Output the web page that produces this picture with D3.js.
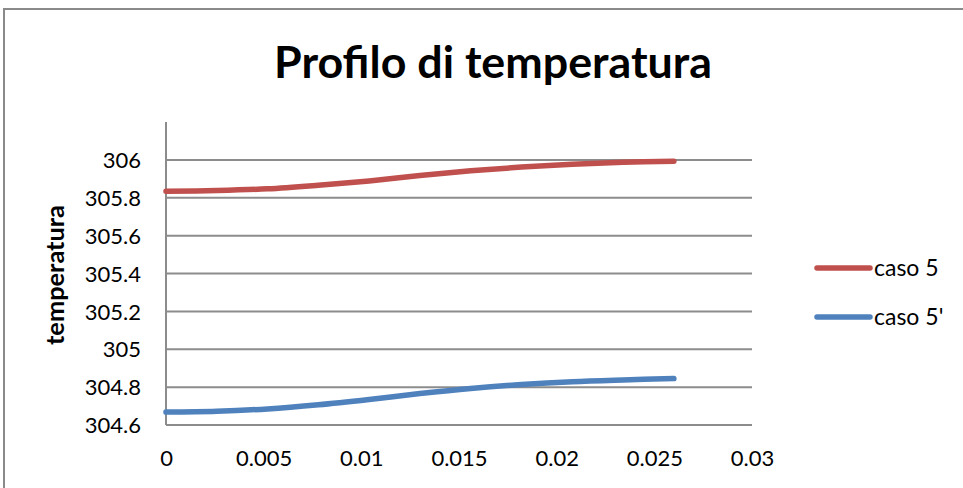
<!DOCTYPE html>
<html><head><meta charset="utf-8">
<script src="https://cdn.jsdelivr.net/npm/d3@7"></script>
<style>html,body{margin:0;padding:0;background:#fff;overflow:hidden}</style>
</head><body>
<svg id="c" width="963" height="488"></svg>
<script>
const title = "Profilo di temperatura";
const yAxisTitle = "temperatura";
const xValues = [0, 0.0026, 0.0052, 0.0078, 0.0104, 0.013, 0.0156, 0.0182, 0.0208, 0.0234, 0.026];
const caso5 = [305.834, 305.838, 305.847, 305.866, 305.889, 305.917, 305.942, 305.962, 305.977, 305.987, 305.993];
const caso5p = [304.668, 304.672, 304.685, 304.707, 304.735, 304.766, 304.793, 304.814, 304.829, 304.838, 304.845];
const seriesNames = ["caso 5", "caso 5'"];
const seriesColors = ["#C0504D", "#4F81BD"];
const xTicks = [0, 0.005, 0.01, 0.015, 0.02, 0.025, 0.03];
const yTicks = [304.6, 304.8, 305, 305.2, 305.4, 305.6, 305.8, 306];

const svg = d3.select("#c");
const font = "Lato, 'Open Sans', sans-serif";
const pLeft = 166, pRight = 752, pTop = 122, pBottom = 425;

// outer border
svg.append("rect").attr("x", 4).attr("y", 9).attr("width", 1200).attr("height", 1000)
  .attr("fill", "none").attr("stroke", "#8a8a8a").attr("stroke-width", 2);

const x = d3.scaleLinear().domain([0, 0.03]).range([pLeft, pRight]);
const y = d3.scaleLinear().domain([304.6, 306.2]).range([pBottom, pTop]);

// gridlines
svg.append("g").selectAll("line").data(yTicks).join("line")
  .attr("x1", pLeft).attr("x2", pRight)
  .attr("y1", d => y(d)).attr("y2", d => y(d))
  .attr("stroke", "#8c8c8c").attr("stroke-width", 2);

// vertical axis line
svg.append("line").attr("x1", pLeft).attr("x2", pLeft).attr("y1", pTop).attr("y2", pBottom)
  .attr("stroke", "#8c8c8c").attr("stroke-width", 2);

// y axis labels
const fmtY = d => String(+d.toFixed(1));
const yAxis = d3.axisLeft(y).tickValues(yTicks).tickSize(0).tickPadding(0).tickFormat(fmtY);
const gy = svg.append("g").attr("transform", `translate(141,0)`).call(yAxis);
gy.select(".domain").remove();
gy.selectAll("text").attr("font-family", font).attr("font-size", 22).attr("fill", "#000").attr("dy", "0.35em");

// x axis labels
const xAxis = d3.axisBottom(x).tickValues(xTicks).tickSize(0).tickPadding(0).tickFormat(d => String(+d.toFixed(3)));
const gx = svg.append("g").attr("transform", `translate(0,458)`).call(xAxis);
gx.select(".domain").remove();
gx.selectAll("text").attr("font-family", font).attr("font-size", 22).attr("fill", "#000").attr("dy", "0.35em");

// lines
const line = d3.line().x(d => x(d[0])).y(d => y(d[1])).curve(d3.curveCatmullRom.alpha(0.5));
[caso5, caso5p].forEach((vals, i) => {
  svg.append("path").datum(xValues.map((xv, j) => [xv, vals[j]]))
    .attr("d", line).attr("fill", "none").attr("stroke", seriesColors[i])
    .attr("stroke-width", 5.5).attr("stroke-linecap", "round");
});

// title
const t = svg.append("text").attr("x", 493).attr("y", 78).attr("text-anchor", "middle")
  .attr("font-family", font).attr("font-weight", "bold").attr("font-size", 38).text(title);
const tw = t.node().getComputedTextLength();
t.attr("font-size", 38 * 438 / tw);

// y axis title
const yt = svg.append("text").attr("transform", "translate(64,275) rotate(-90)")
  .attr("text-anchor", "middle").attr("font-family", font).attr("font-weight", "bold")
  .attr("font-size", 18).text(yAxisTitle);
const yw = yt.node().getComputedTextLength();
yt.attr("font-size", 18 * 140 / yw);

// legend
const legY = [268, 317];
seriesNames.forEach((n, i) => {
  svg.append("line").attr("x1", 817).attr("x2", 870).attr("y1", legY[i]).attr("y2", legY[i])
    .attr("stroke", seriesColors[i]).attr("stroke-width", 5.5).attr("stroke-linecap", "round");
  svg.append("text").attr("x", 874).attr("y", legY[i]).attr("dy", "0.35em")
    .attr("font-family", font).attr("font-size", 23).attr("fill", "#000").text(n);
});
</script>
</body></html>
